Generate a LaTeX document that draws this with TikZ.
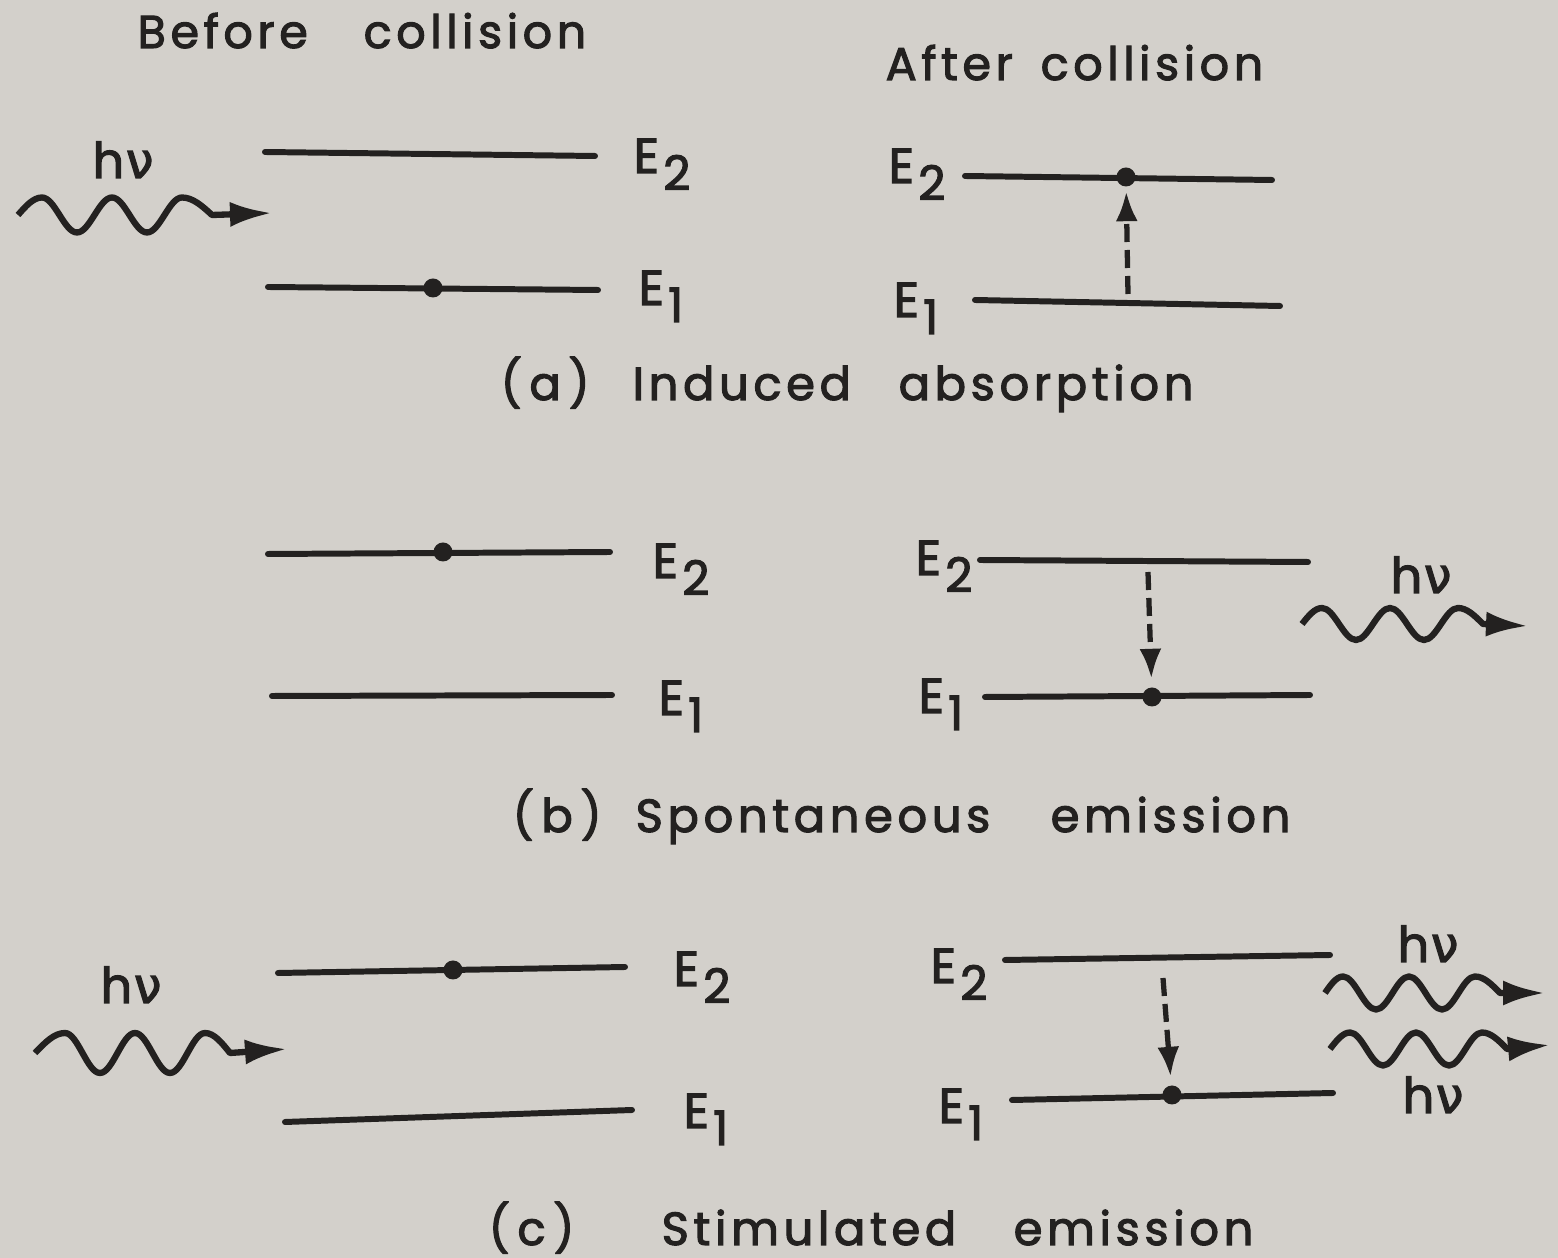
\documentclass[tikz,border=0pt]{standalone}
\usepackage{fontspec}
\setmainfont[LetterSpace=10,FakeBold=2.4]{Poppins}
\newfontfamily\grk[FakeBold=2.4]{DejaVu Sans}
\usetikzlibrary{arrows.meta}
\definecolor{paper}{HTML}{D3D0CB}
\definecolor{ink}{HTML}{232120}
\newcommand\headfont{\fontsize{13.1}{14}\selectfont}
\newcommand\capfont{\fontsize{13.2}{15}\selectfont}
\newcommand\labfont{\fontsize{14}{16}\selectfont}
\newcommand\En[1]{E\kern1.2pt\raisebox{-0.17cm}{\fontsize{13.5}{14}\selectfont #1}}
\newcommand\hnu{h\kern0.5pt{\grk ν}}
\newcommand\photonwave[6]{% start, end, q, a, first, last
  \draw[photon] (#1) sin ++(#5,#4) cos ++(#3,-#4) sin ++(#3,-#4) cos ++(#3,#4)
    sin ++(#3,#4) cos ++(#3,-#4) sin ++(#3,-#4) cos ++(#3,#4) sin ++(#3,#4)
    cos ++(#6,-#4) -- (#2);}
\tikzset{
  level/.style={line width=1.7pt, draw=ink, line cap=round},
  edot/.style={circle, fill=ink, inner sep=0pt, minimum size=0.19cm},
  transition/.style={line width=1.5pt, draw=ink, dash pattern=on 0.18cm off 0.08cm,
    -{Latex[length=0.3cm,width=0.22cm]}},
  photon/.style={line width=1.8pt, draw=ink, line join=round,
    -{Latex[length=0.42cm,width=0.25cm]}},
  lab/.style={anchor=base west, inner sep=0pt, text=ink, font=\headfont},
  elab/.style={anchor=base west, inner sep=0pt, text=ink, font=\labfont},
  captext/.style={anchor=base west, inner sep=0pt, text=ink, font=\capfont},
}
\begin{document}
\begin{tikzpicture}
\useasboundingbox (0,0) rectangle (15.58,12.58);
\fill[paper] (0,0) rectangle (15.58,12.58);

% headings
\node[lab] (before1) at (1.37,12.10) {Before};
\node[lab] (before2) at (3.63,12.10) {collision};
\node[lab] (after1) at (8.85,11.78) {After};
\node[lab] (after2) at (10.40,11.78) {collision};

% ---------- (a) induced absorption ----------
\node[elab] (hnua) at (0.92,10.80) {\hnu};
\coordinate (wa0) at (0.18,10.43);
\coordinate (wa1) at (2.72,10.45);
\photonwave{wa0}{wa1}{0.175}{0.175}{0.24}{0.3}

\coordinate (aL2s) at (2.65,11.06); \coordinate (aL2e) at (5.95,11.02);
\draw[level] (aL2s) -- (aL2e);
\coordinate (aL1s) at (2.68,9.71); \coordinate (aL1e) at (5.98,9.68);
\draw[level] (aL1s) -- (aL1e);
\node[edot] (aLdot) at (4.33,9.70) {};
\node[elab] (aLE2) at (6.33,10.85) {\En{2}};
\node[elab] (aLE1) at (6.38,9.53) {\En{1}};

\coordinate (aR2s) at (9.65,10.82); \coordinate (aR2e) at (12.72,10.78);
\draw[level] (aR2s) -- (aR2e);
\coordinate (aR1s) at (9.75,9.58); \coordinate (aR1e) at (12.80,9.52);
\draw[level] (aR1s) -- (aR1e);
\node[edot] (aRdot) at (11.26,10.81) {};
\coordinate (aRfrom) at (11.28,9.64);
\draw[transition, shorten >=0.04cm] (aRfrom) -- (aRdot);
\node[elab] (aRE2) at (8.88,10.75) {\En{2}};
\node[elab] (aRE1) at (8.93,9.41) {\En{1}};

\node[captext] (capa1) at (5.00,8.58) {(\,a\,)};
\node[captext] (capa2) at (6.32,8.58) {Induced};
\node[captext] (capa3) at (8.98,8.58) {absorption};

% ---------- (b) spontaneous emission ----------
\coordinate (bL2s) at (2.68,7.04); \coordinate (bL2e) at (6.10,7.06);
\draw[level] (bL2s) -- (bL2e);
\coordinate (bL1s) at (2.72,5.62); \coordinate (bL1e) at (6.12,5.63);
\draw[level] (bL1s) -- (bL1e);
\node[edot] (bLdot) at (4.43,7.06) {};
\node[elab] (bLE2) at (6.52,6.80) {\En{2}};
\node[elab] (bLE1) at (6.58,5.43) {\En{1}};

\coordinate (bR2s) at (9.80,6.98); \coordinate (bR2e) at (13.08,6.96);
\draw[level] (bR2s) -- (bR2e);
\coordinate (bR1s) at (9.85,5.61); \coordinate (bR1e) at (13.10,5.63);
\draw[level] (bR1s) -- (bR1e);
\node[edot] (bRdot) at (11.52,5.61) {};
\coordinate (bRfrom) at (11.48,6.86);
\draw[transition, shorten >=0.08cm] (bRfrom) -- (bRdot);
\node[elab] (bRE2) at (9.15,6.83) {\En{2}};
\node[elab] (bRE1) at (9.18,5.45) {\En{1}};

\node[elab] (hnub) at (13.90,6.65) {\hnu};
\coordinate (wb0) at (13.02,6.34);
\coordinate (wb1) at (15.28,6.32);
\photonwave{wb0}{wb1}{0.17}{0.16}{0.2}{0.25}

\node[captext] (capb1) at (5.12,4.26) {(\,b\,)};
\node[captext] (capb2) at (6.35,4.26) {Spontaneous};
\node[captext] (capb3) at (10.50,4.26) {emission};

% ---------- (c) stimulated emission ----------
\node[elab] (hnuc) at (1.00,2.55) {\hnu};
\coordinate (wc0) at (0.35,2.05);
\coordinate (wc1) at (2.87,2.09);
\photonwave{wc0}{wc1}{0.175}{0.2}{0.3}{0.25}

\coordinate (cL2s) at (2.78,2.85); \coordinate (cL2e) at (6.25,2.91);
\draw[level] (cL2s) -- (cL2e);
\coordinate (cL1s) at (2.85,1.36); \coordinate (cL1e) at (6.32,1.48);
\draw[level] (cL1s) -- (cL1e);
\node[edot] (cLdot) at (4.53,2.88) {};
\node[elab] (cLE2) at (6.73,2.72) {\En{2}};
\node[elab] (cLE1) at (6.83,1.30) {\En{1}};

\coordinate (cR2s) at (10.05,2.98); \coordinate (cR2e) at (13.30,3.03);
\draw[level] (cR2s) -- (cR2e);
\coordinate (cR1s) at (10.12,1.58); \coordinate (cR1e) at (13.33,1.65);
\draw[level] (cR1s) -- (cR1e);
\node[edot] (cRdot) at (11.72,1.63) {};
\coordinate (cRfrom) at (11.63,2.80);
\draw[transition, shorten >=0.08cm] (cRfrom) -- (cRdot);
\node[elab] (cRE2) at (9.30,2.75) {\En{2}};
\node[elab] (cRE1) at (9.38,1.35) {\En{1}};

\node[elab] (hnuc1) at (13.97,2.96) {\hnu};
\coordinate (wd0) at (13.25,2.65);
\coordinate (wd1) at (15.45,2.65);
\photonwave{wd0}{wd1}{0.165}{0.165}{0.18}{0.25}
\coordinate (we0) at (13.30,2.09);
\coordinate (we1) at (15.50,2.13);
\photonwave{we0}{we1}{0.165}{0.165}{0.2}{0.25}
\node[elab] (hnuc2) at (14.02,1.45) {\hnu};

\node[captext] (capc1) at (4.88,0.13) {(\,c\,)};
\node[captext] (capc2) at (6.61,0.13) {Stimulated};
\node[captext] (capc3) at (10.13,0.13) {emission};
\end{tikzpicture}
\end{document}
